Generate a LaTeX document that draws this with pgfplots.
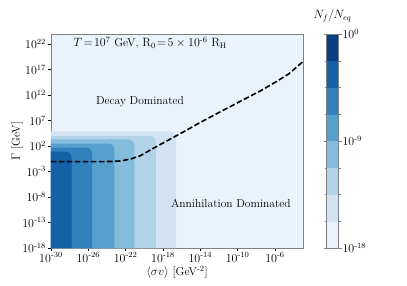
\documentclass[border=0pt]{standalone}
\usepackage{amsmath}
\usepackage{pgfplots}
\pgfplotsset{compat=1.18}
\definecolor{c1}{RGB}{234,243,251}
\definecolor{c2}{RGB}{210,227,243}
\definecolor{c3}{RGB}{178,210,232}
\definecolor{c4}{RGB}{132,188,219}
\definecolor{c5}{RGB}{86,160,206}
\definecolor{c6}{RGB}{49,129,189}
\definecolor{c7}{RGB}{20,97,168}
\definecolor{c8}{RGB}{8,64,131}
\newcommand{\m}{\text{-}}
\begin{document}
\fontsize{11.5}{13.5}\selectfont
\begin{tikzpicture}
\path[use as bounding box] (-51pt,-37pt) rectangle (356pt,248pt);
\begin{axis}[
  at={(0pt,0pt)}, anchor=south west,
  scale only axis, width=252pt, height=214pt,
  xmin=-30, xmax=-3, ymin=-18, ymax=24,
  axis background/.style={fill=c1},
  axis line style={gray},
  tick align=outside, major tick length=3pt,
  tick style={black, thin},
  xtick={-30,-26,-22,-18,-14,-10,-6},
  xticklabels={$10^{\m30}$,$10^{\m26}$,$10^{\m22}$,$10^{\m18}$,$10^{\m14}$,$10^{\m10}$,$10^{\m6}$},
  ytick={-18,-13,-8,-3,2,7,12,17,22},
  yticklabels={$10^{\m18}$,$10^{\m13}$,$10^{\m8}$,$10^{\m3}$,$10^{2}$,$10^{7}$,$10^{12}$,$10^{17}$,$10^{22}$},
  xticklabel style={yshift=2.5pt},
  yticklabel style={xshift=2pt},
  xtick pos=bottom, ytick pos=left,
  xlabel={$\langle\sigma v\rangle$ [GeV$^{\m2}$]},
  ylabel={$\Gamma$ [GeV]},
  xlabel style={at={(axis description cs:0.5,-0.115)}, anchor=center},
  ylabel style={at={(axis description cs:-0.135,0.5)}, anchor=center, rotate=0},
  colorbar,
  point meta min=-18, point meta max=0,
  colormap={nblues}{rgb255(0)=(234,243,251) rgb255(1)=(210,227,243) rgb255(2)=(178,210,232) rgb255(3)=(132,188,219) rgb255(4)=(86,160,206) rgb255(5)=(49,129,189) rgb255(6)=(20,97,168) rgb255(7)=(8,64,131) rgb255(8)=(8,64,131)},
  colormap access=piecewise constant,
  colorbar style={
    width=12pt,
    at={(parent axis.north east)}, anchor=north west, xshift=15pt,
    axis line style={gray},
    ytick={-18,-9,0},
    yticklabels={$10^{\m18}$,$10^{\m9}$,$10^{0}$},
    minor ytick={-15.75,-13.5,-11.25,-6.75,-4.5,-2.25},
    yticklabel pos=right,
    tick align=outside,
    major tick length=3pt, minor tick length=2pt,
    tick style={gray, thin},
    yticklabel style={xshift=-3pt},
    title={$N_f/N_{eq}$},
    title style={at={(0.5,1)}, anchor=south, yshift=2pt},
  },
]
\addplot[fill=c2, draw=none] coordinates {(-30,-18) (-16.6,-18) (-16.6,3.78) (-16.68,4.33) (-16.9,4.73) (-17.2,4.88) (-30,4.88)} -- cycle;
\addplot[fill=c3, draw=none] coordinates {(-30,-18) (-18.76,-18) (-18.76,2.86) (-18.84,3.41) (-19.06,3.81) (-19.36,3.96) (-30,3.96)} -- cycle;
\addplot[fill=c4, draw=none] coordinates {(-30,-18) (-21.08,-18) (-21.08,2.2) (-21.16,2.75) (-21.38,3.15) (-21.68,3.3) (-30,3.3)} -- cycle;
\addplot[fill=c5, draw=none] coordinates {(-30,-18) (-23.2,-18) (-23.2,1.37) (-23.28,1.92) (-23.5,2.32) (-23.8,2.47) (-30,2.47)} -- cycle;
\addplot[fill=c6, draw=none] coordinates {(-30,-18) (-25.6,-18) (-25.6,0.59) (-25.68,1.14) (-25.9,1.54) (-26.2,1.69) (-30,1.69)} -- cycle;
\addplot[fill=c7, draw=none] coordinates {(-30,-18) (-27.8,-18) (-27.8,-0.2) (-27.88,0.35) (-28.1,0.75) (-28.4,0.9) (-30,0.9)} -- cycle;
\addplot[black, line width=1.6pt, dash pattern=on 5.5pt off 2.5pt] coordinates {
(-30,-1.05) (-25,-1.05) (-23.5,-1.02) (-22.5,-0.9) (-21.5,-0.55) (-20.5,0.05) (-19,1.6) (-17.3,3.3) (-15.5,5.1) (-14.15,6.5) (-12,8.6) (-9.6,10.9) (-7.5,12.9) (-6,14.5) (-4.5,16.2) (-3,18.6)};
\node[anchor=base west] at (axis cs:-28,21.5) {$T\!=\!10^7$ GeV, $\mathrm{R}_0\!=\!5\times10^{\m6}$ $\mathrm{R}_{\mathrm{H}}$};
\node[anchor=base] at (axis cs:-20.46,10.2) {Decay Dominated};
\node[anchor=base] at (axis cs:-10.73,-10.1) {Annihilation Dominated};
\end{axis}
\end{tikzpicture}
\end{document}
